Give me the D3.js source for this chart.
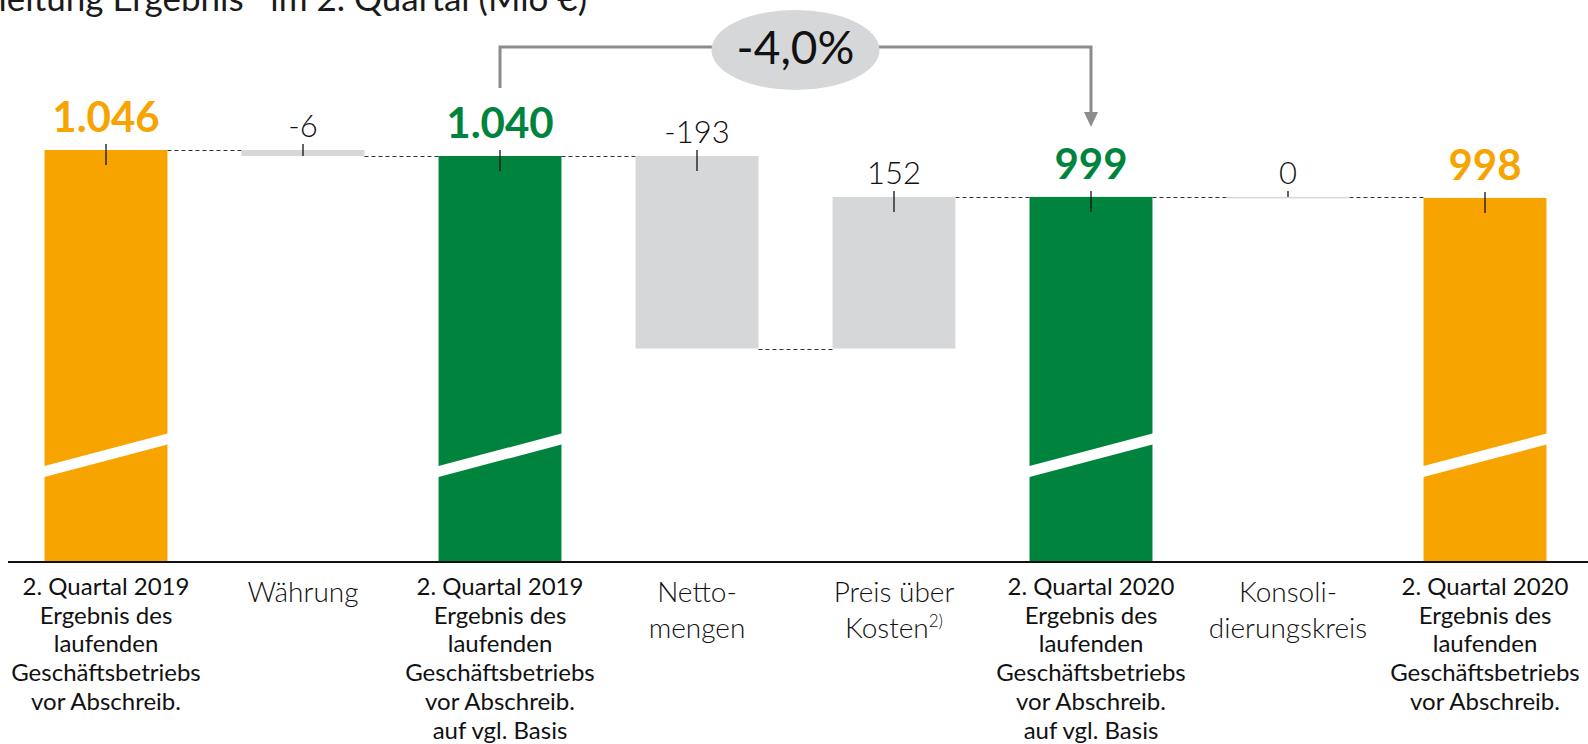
<!DOCTYPE html>
<html>
<head>
<meta charset="utf-8">
<script src="https://cdn.jsdelivr.net/npm/d3@7"></script>
<style>
  html, body { margin: 0; padding: 0; background: #fff; overflow: hidden; }
  svg { display: block; font-family: Lato, "Open Sans", sans-serif; }
</style>
</head>
<body>
<div id="chart"></div>
<script>
// Category labels, one entry per line.
const categoryLines = [
  ["2. Quartal 2019", "Ergebnis des", "laufenden", "Geschäftsbetriebs", "vor Abschreib."],
  ["Währung"],
  ["2. Quartal 2019", "Ergebnis des", "laufenden", "Geschäftsbetriebs", "vor Abschreib.", "auf vgl. Basis"],
  ["Netto-", "mengen"],
  ["Preis über", "Kosten"],
  ["2. Quartal 2020", "Ergebnis des", "laufenden", "Geschäftsbetriebs", "vor Abschreib.", "auf vgl. Basis"],
  ["Konsoli-", "dierungskreis"],
  ["2. Quartal 2020", "Ergebnis des", "laufenden", "Geschäftsbetriebs", "vor Abschreib."]
];
// Footnote marks on the last line of a category label.
const categoryNotes = [null, null, null, null, "2)", null, null, null];

// Mio € per step of the bridge.
const values = [1046, -6, 1040, -193, 152, 999, 0, 998];
// reported = totals as reported, comparable = totals on comparable basis, change = bridge step.
const barKinds = ["reported", "change", "comparable", "change", "change", "comparable", "change", "reported"];

// Change between the two comparable totals, in percent.
const changePercent = -4.0;
const changeFrom = 2;
const changeTo = 5;

const titleText = ["Überleitung Ergebnis", "1)", " im 2. Quartal (Mio €)"];

// Lowest value shown above the axis break.
const yFloor = 633;

/**
 * Draw a waterfall (bridge) chart.
 *
 * @param {string} chartLocation
 *   Selector of the element that gets the svg.
 * @param {int} width
 * @param {int} height
 */
function waterfallChart(chartLocation, width, height) {
  const colours = { reported: "#F7A400", comparable: "#00843D", change: "#D6D7D9" };
  const baseY = 562;

  const svg = d3.select(chartLocation).append("svg")
    .attr("width", width)
    .attr("height", height);

  // German number format: 1.046 and -4,0
  const de = d3.formatLocale({ decimal: ",", thousands: ".", grouping: [3], currency: ["", " €"], minus: "-" });
  const fmt = de.format(",");
  const fmtPct = de.format(".1f");

  // Running totals: each bar gets a start and an end value.
  let running = 0;
  const bars = values.map((v, i) => {
    let start, end;
    if (barKinds[i] === "change") {
      start = running;
      end = running + v;
    } else {
      start = yFloor;
      end = v;
    }
    running = end;
    return { i, value: v, kind: barKinds[i], start, end };
  });

  const x = d3.scaleBand()
    .domain(d3.range(values.length))
    .range([7.5, 1583.5])
    .paddingInner(0.376)
    .paddingOuter(0.188);

  const y = d3.scaleLinear()
    .domain([yFloor, d3.max(values)])
    .range([baseY, 150]);

  const bw = x.bandwidth();
  const cx = i => x(i) + bw / 2;

  // Title (cut off at the top, as in the slide)
  const title = svg.append("text")
    .attr("x", 587)
    .attr("y", 11)
    .attr("text-anchor", "end")
    .style("font-size", "35px")
    .style("fill", "#1a1a1a");
  title.append("tspan").text(titleText[0]);
  title.append("tspan").attr("dy", -14).style("font-size", "21px").text(titleText[1]);
  title.append("tspan").attr("dy", 14).text(titleText[2]);

  // Dashed connectors between bars
  bars.slice(0, -1).forEach((b, k) => {
    const yy = Math.round(y(b.end)) + 0.5;
    svg.append("line")
      .attr("x1", x(k) + bw)
      .attr("x2", x(k + 1))
      .attr("y1", yy)
      .attr("y2", yy)
      .attr("stroke", "#333")
      .attr("stroke-width", 1.2)
      .attr("stroke-dasharray", "4,3");
  });

  // Bars
  svg.selectAll(".bar")
    .data(bars)
    .enter().append("rect")
    .attr("class", "bar")
    .attr("x", d => x(d.i))
    .attr("width", bw)
    .attr("y", d => y(Math.max(d.start, d.end)))
    .attr("height", d => Math.max(Math.abs(y(d.start) - y(d.end)), 1.5))
    .attr("fill", d => colours[d.kind]);

  // Axis break stripe on the totals
  const breakMid = 740;
  svg.selectAll(".break")
    .data(bars.filter(d => d.kind !== "change"))
    .enter().append("polygon")
    .attr("class", "break")
    .attr("fill", "#fff")
    .attr("points", d => {
      const x0 = x(d.i) - 1, x1 = x(d.i) + bw + 1, ym = y(breakMid);
      return [[x0, ym + 11], [x1, ym - 22], [x1, ym - 11], [x0, ym + 22]].join(" ");
    });

  // Small marker lines on top of each bar
  svg.selectAll(".tick-mark")
    .data(bars)
    .enter().append("line")
    .attr("class", "tick-mark")
    .attr("x1", d => cx(d.i))
    .attr("x2", d => cx(d.i))
    .attr("y1", d => y(Math.max(d.start, d.end)) - 6)
    .attr("y2", d => Math.min(y(Math.max(d.start, d.end)) + 15, y(Math.min(d.start, d.end))))
    .attr("stroke", "#111")
    .attr("stroke-width", 1.3);

  // Value labels
  svg.selectAll(".value")
    .data(bars)
    .enter().append("text")
    .attr("class", "value")
    .attr("x", d => cx(d.i))
    .attr("y", d => y(Math.max(d.start, d.end)) - (d.kind === "change" ? 13 : 18))
    .attr("text-anchor", "middle")
    .style("font-size", d => d.kind === "change" ? "31px" : "42px")
    .style("font-weight", d => d.kind === "change" ? 300 : 700)
    .style("fill", d => d.kind === "change" ? "#111" : colours[d.kind])
    .text(d => fmt(d.value));

  // Base line
  svg.append("line")
    .attr("x1", 8).attr("x2", width)
    .attr("y1", baseY).attr("y2", baseY)
    .attr("stroke", "#111")
    .attr("stroke-width", 2);

  // Category labels
  bars.forEach(d => {
    const isTotal = d.kind !== "change";
    const lines = categoryLines[d.i];
    const t = svg.append("text")
      .attr("text-anchor", "middle")
      .style("font-size", isTotal ? "24px" : "28px")
      .style("font-weight", isTotal ? 400 : 300)
      .style("fill", "#111");
    lines.forEach((line, k) => {
      t.append("tspan")
        .attr("x", cx(d.i))
        .attr("y", (isTotal ? 595 : 602) + k * (isTotal ? 28.7 : 36))
        .text(line);
      if (k === lines.length - 1 && categoryNotes[d.i]) {
        t.append("tspan").attr("dy", -11).style("font-size", "17px").text(categoryNotes[d.i]);
      }
    });
  });

  // Change bracket with arrow and bubble
  const ax = cx(changeFrom), bx = cx(changeTo), lineY = 47;
  svg.append("path")
    .attr("d", `M${ax},${y(values[changeFrom]) - 68} V${lineY} H${bx} V${y(values[changeTo]) - 82}`)
    .attr("fill", "none")
    .attr("stroke", "#8C8C8C")
    .attr("stroke-width", 3);
  const tipY = y(values[changeTo]) - 70;
  svg.append("polygon")
    .attr("points", [[bx - 7, tipY - 15], [bx + 7, tipY - 15], [bx, tipY]].join(" "))
    .attr("fill", "#8C8C8C");

  const mid = (ax + bx) / 2;
  svg.append("ellipse")
    .attr("cx", mid)
    .attr("cy", 50)
    .attr("rx", 84)
    .attr("ry", 40)
    .attr("fill", "#D6D7D9");
  svg.append("text")
    .attr("x", mid)
    .attr("y", 64)
    .attr("text-anchor", "middle")
    .style("font-size", "46px")
    .style("fill", "#111")
    .text(fmtPct(changePercent) + "%");
}

waterfallChart("#chart", 1588, 744);
</script>
</body>
</html>
